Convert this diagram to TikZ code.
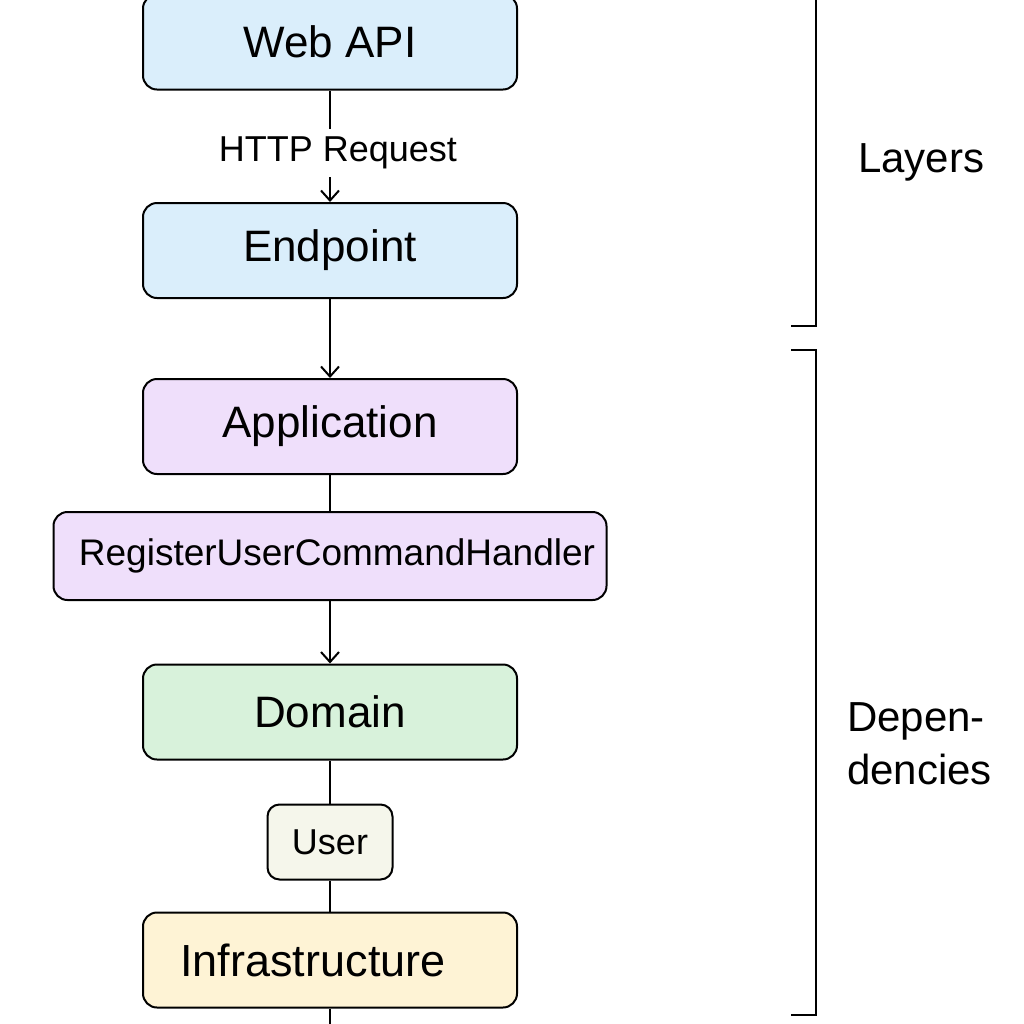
\documentclass[tikz,border=0pt]{standalone}
\usepackage{fontspec}
\setmainfont{Liberation Sans}
\usetikzlibrary{arrows.meta}
\definecolor{apiblue}{HTML}{DAEEFB}
\definecolor{apppurple}{HTML}{EFDFFB}
\definecolor{domgreen}{HTML}{D8F2DB}
\definecolor{infrayellow}{HTML}{FEF3D5}
\definecolor{userbeige}{HTML}{F5F6EB}

\begin{document}
\begin{tikzpicture}[x=0.5pt, y=-0.5pt, line width=1pt,
  layer/.style={draw, rounded corners=7pt, minimum width=187pt, minimum height=47.5pt,
    inner sep=0pt, font=\fontsize{22}{26}\selectfont},
  small/.style={font=\fontsize{18}{22}\selectfont},
  link/.style={-{Straight Barb[length=5pt,width=9pt]}}]
  \clip (0,0) rectangle (1024,1024);
  % Layer boxes
  \node[layer, fill=apiblue] (webapi) at (330,42) {Web API};
  \node[layer, fill=apiblue] (endpoint) at (330,250.5) {Endpoint};
  \node[layer, fill=apppurple] (app) at (330,426.5) {Application};
  \node[layer, fill=apppurple, minimum width=276.5pt, minimum height=44pt,
    font=\fontsize{18.5}{22}\selectfont] (handler) at (330,556) {\hspace{7pt}RegisterUserCommandHandler};
  \node[layer, fill=domgreen] (domain) at (330,712) {Domain};
  \node[layer, fill=userbeige, minimum width=62.5pt, minimum height=37.5pt, rounded corners=6pt,
    small] (user) at (330,842) {User};
  \node[layer, fill=infrayellow, font=\fontsize{22.5}{26}\selectfont] (infra) at (330,960) {Infrastructure\hspace{17pt}\mbox{}};
  \coordinate (tail) at (330,1030);
  % Connectors
  \draw[link] (webapi) -- node[pos=0.56, xshift=4pt, small, fill=white, inner xsep=2pt, inner ysep=4pt] (http) {HTTP Request} (endpoint);
  \draw[link] (endpoint) -- (app);
  \draw (app) -- (handler);
  \draw[link] (handler) -- (domain);
  \draw (domain) -- (user);
  \draw (user) -- (infra);
  \draw (infra) -- (tail);
  % Brackets on the right
  \draw (791,326) -- (816,326) -- (816,-5);
  \draw (791,350) -- (816,350) -- (816,1015) -- (791,1015);
  \node[anchor=base west, inner sep=0pt, font=\fontsize{21}{26}\selectfont] (layers) at (857,172) {Layers};
  \node[anchor=north west, inner sep=0pt, align=left, font=\fontsize{21}{26.5}\selectfont] (deps) at (846,702) {Depen-\\dencies};
\end{tikzpicture}
\end{document}
